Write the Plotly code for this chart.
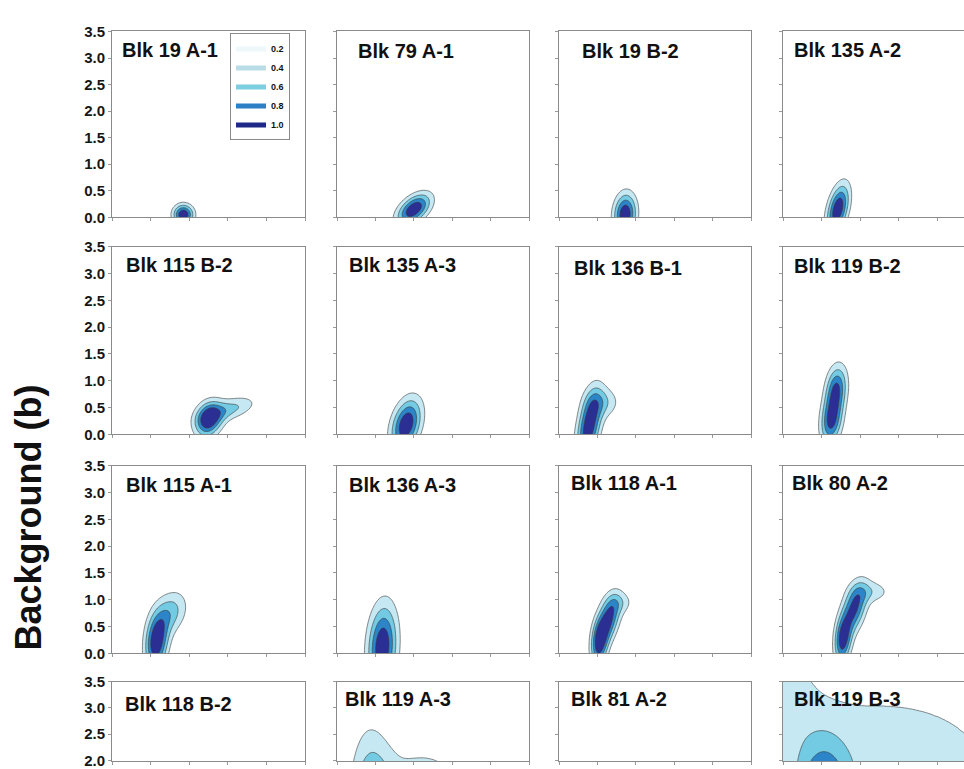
import numpy as np
import plotly.graph_objects as go

# ---------------- data ----------------
PANEL_NAMES = [
    "Blk 19 A-1", "Blk 79 A-1", "Blk 19 B-2", "Blk 135 A-2",
    "Blk 115 B-2", "Blk 135 A-3", "Blk 136 B-1", "Blk 119 B-2",
    "Blk 115 A-1", "Blk 136 A-3", "Blk 118 A-1", "Blk 80 A-2",
    "Blk 118 B-2", "Blk 119 A-3", "Blk 81 A-2", "Blk 119 B-3",
]

# Gaussian components that describe each panel's density (peak about 1)
COMP_PANEL = [0, 1, 2, 3, 4, 4, 5, 6, 6, 7, 7, 8, 8, 9, 10, 10, 10,
              11, 11, 11, 12, 13, 13, 14, 15, 15, 15]
COMP_CX = [1.85, 2.00, 1.72, 1.42, 2.50, 3.05, 1.80, 0.78, 1.15, 1.25, 1.38, 1.15, 1.50, 1.18,
           1.05, 1.30, 1.60, 1.55, 1.85, 2.30, 1.10, 1.00, 2.20, 1.20, 1.05, 2.50, 0.00]
COMP_CY = [0.05, 0.15, 0.05, 0.15, 0.28, 0.47, 0.18, 0.15, 0.60, 0.25, 0.85, 0.20, 0.75, 0.12,
           0.20, 0.65, 0.95, 0.25, 0.85, 1.15, 0.50, 0.50, 1.20, 0.40, 0.90, 2.00, 3.30]
COMP_SX = [0.18, 0.30, 0.20, 0.20, 0.24, 0.45, 0.27, 0.22, 0.30, 0.19, 0.19, 0.20, 0.30, 0.26,
           0.15, 0.20, 0.25, 0.15, 0.22, 0.35, 0.25, 0.35, 1.00, 0.20, 0.45, 2.80, 0.55]
COMP_SY = [0.13, 0.20, 0.27, 0.32, 0.22, 0.16, 0.33, 0.45, 0.20, 0.30, 0.30, 0.35, 0.28, 0.53,
           0.30, 0.30, 0.15, 0.30, 0.32, 0.15, 0.50, 1.10, 0.80, 0.50, 0.85, 1.15, 0.70]
COMP_RHO = [0.0, 0.5, 0.1, 0.45, 0.2, 0.5, 0.35, 0.45, 0.0, 0.2, 0.2, 0.2, 0.3, 0.15,
            0.2, 0.4, 0.0, 0.2, 0.4, 0.0, 0.3, -0.2, 0.0, 0.3, 0.0, 0.0, 0.0]
COMP_W = [1.0, 1.0, 1.0, 1.0, 1.0, 0.45, 1.0, 1.0, 0.35, 0.85, 0.80, 1.0, 0.50, 1.0,
          0.90, 0.85, 0.25, 0.90, 0.85, 0.30, 1.0, 1.0, 0.35, 1.0, 1.0, 0.30, 0.22]

LEVEL_LABELS = ["0.2", "0.4", "0.6", "0.8", "1.0"]
LEVEL_COLORS = ["#f2f9fb", "#c6e8f2", "#72cae3", "#2c85c8", "#2b2f94"]
LEGEND_COLORS = ["#eef7fa", "#b9dde7", "#7ccfe1", "#2c80c6", "#1f2a88"]
Y_TICKS = [0.0, 0.5, 1.0, 1.5, 2.0, 2.5, 3.0, 3.5]
X_TICKS = [0, 1, 2, 3, 4, 5]
X_MAX, Y_MAX = 5.0, 3.5
Y_TITLE = "Background (b)"

# ---------------- layout geometry (pixels) ----------------
W, H = 964, 769
COLS_PX = [(112, 305), (337, 529), (559, 751), (783, 976)]
ROWS_PX = [(23, 213), (243, 435), (467, 659), (688, 879)]
TITLE_POS = [(120, 42), (356, 43), (580, 43), (792, 42),
             (124, 262), (347, 262), (572, 265), (792, 263),
             (124, 487), (347, 487), (569, 485), (790, 485),
             (123, 711), (343, 706), (569, 706), (792, 706)]

FONT = "Liberation Sans, Arial, Helvetica, sans-serif"

xs = np.linspace(0, X_MAX, 141)
ys = np.linspace(0, Y_MAX, 141)
XX, YY = np.meshgrid(xs, ys)


def density(panel):
    z = np.zeros_like(XX)
    for k, p in enumerate(COMP_PANEL):
        if p != panel:
            continue
        u = (XX - COMP_CX[k]) / COMP_SX[k]
        v = (YY - COMP_CY[k]) / COMP_SY[k]
        r = COMP_RHO[k]
        z += COMP_W[k] * np.exp(-0.5 * (u * u - 2 * r * u * v + v * v) / (1 - r * r))
    return np.round(z, 3)


colorscale = [[0.0, "white"], [0.25, LEVEL_COLORS[1]], [0.5, LEVEL_COLORS[2]],
              [0.75, LEVEL_COLORS[3]], [1.0, LEVEL_COLORS[4]]]

fig = go.Figure()
annotations = []

for i, name in enumerate(PANEL_NAMES):
    r, c = divmod(i, 4)
    l, rr = COLS_PX[c]
    t, b = ROWS_PX[r]
    vis_r = min(rr, W)
    vis_b = min(b, H)
    xdom = [l / W, vis_r / W]
    ydom = [1 - vis_b / H, 1 - t / H]
    x_hi = X_MAX * (vis_r - l) / (rr - l)
    y_lo = Y_MAX - Y_MAX * (vis_b - t) / (b - t)
    if y_lo > 0:
        y_lo -= 0.03
    sfx = "" if i == 0 else str(i + 1)
    fig.add_trace(go.Contour(
        x=xs, y=ys, z=density(i), xaxis="x" + sfx, yaxis="y" + sfx,
        contours=dict(start=0.2, end=0.8, size=0.2, coloring="fill"),
        colorscale=colorscale, showscale=False,
        line=dict(width=0.6, color="#3a3a3a", smoothing=1),
        hoverinfo="skip", showlegend=False,
    ))
    fig.layout["xaxis" + sfx] = dict(
        domain=xdom, range=[0, x_hi], anchor="y" + sfx,
        tickvals=X_TICKS, showticklabels=False, ticks="outside", ticklen=3,
        tickcolor="#999", showline=True, mirror=True, linecolor="#8a8a8a",
        linewidth=1, showgrid=False, zeroline=False, fixedrange=True,
    )
    fig.layout["yaxis" + sfx] = dict(
        domain=ydom, range=[y_lo, Y_MAX], anchor="x" + sfx,
        tickvals=Y_TICKS, ticktext=[f"{v:.1f}" for v in Y_TICKS],
        showticklabels=(c == 0), ticks="outside", ticklen=3, tickcolor="#999",
        tickfont=dict(family=FONT, size=15, color="#161616", weight="bold"),
        showline=True, mirror=(c != 3), linecolor="#8a8a8a", linewidth=1,
        showgrid=False, zeroline=False, fixedrange=True,
    )
    tx, ty = TITLE_POS[i]
    annotations.append(dict(
        text=name, x=tx / W, y=1 - ty / H, xref="paper", yref="paper",
        xanchor="left", yanchor="middle", showarrow=False,
        font=dict(family=FONT, size=20, color="#111", weight="bold"),
    ))

# legend entries
for lab, col in zip(LEVEL_LABELS, LEGEND_COLORS):
    fig.add_trace(go.Scatter(x=[None], y=[None], mode="lines", name=lab,
                             line=dict(color=col, width=5), xaxis="x", yaxis="y"))

annotations.append(dict(
    text=Y_TITLE, x=29 / W, y=1 - 520 / H, xref="paper", yref="paper",
    xanchor="center", yanchor="middle", textangle=-90, showarrow=False,
    font=dict(family=FONT, size=36, color="#111", weight="bold"),
))

fig.update_layout(
    width=W, height=H, margin=dict(l=0, r=0, t=0, b=0),
    paper_bgcolor="white", plot_bgcolor="white",
    annotations=annotations,
    legend=dict(x=230 / W, y=1 - 25 / H, xanchor="left", yanchor="top",
                bgcolor="white", bordercolor="#8a8a8a", borderwidth=1,
                font=dict(family=FONT, size=9, color="#111", weight="bold"),
                itemwidth=30, tracegroupgap=0),
)

fig.write_html(
    "out.html",
    config={"displayModeBar": False},
    post_script="document.body.style.margin='0';document.body.style.overflow='hidden';",
)
